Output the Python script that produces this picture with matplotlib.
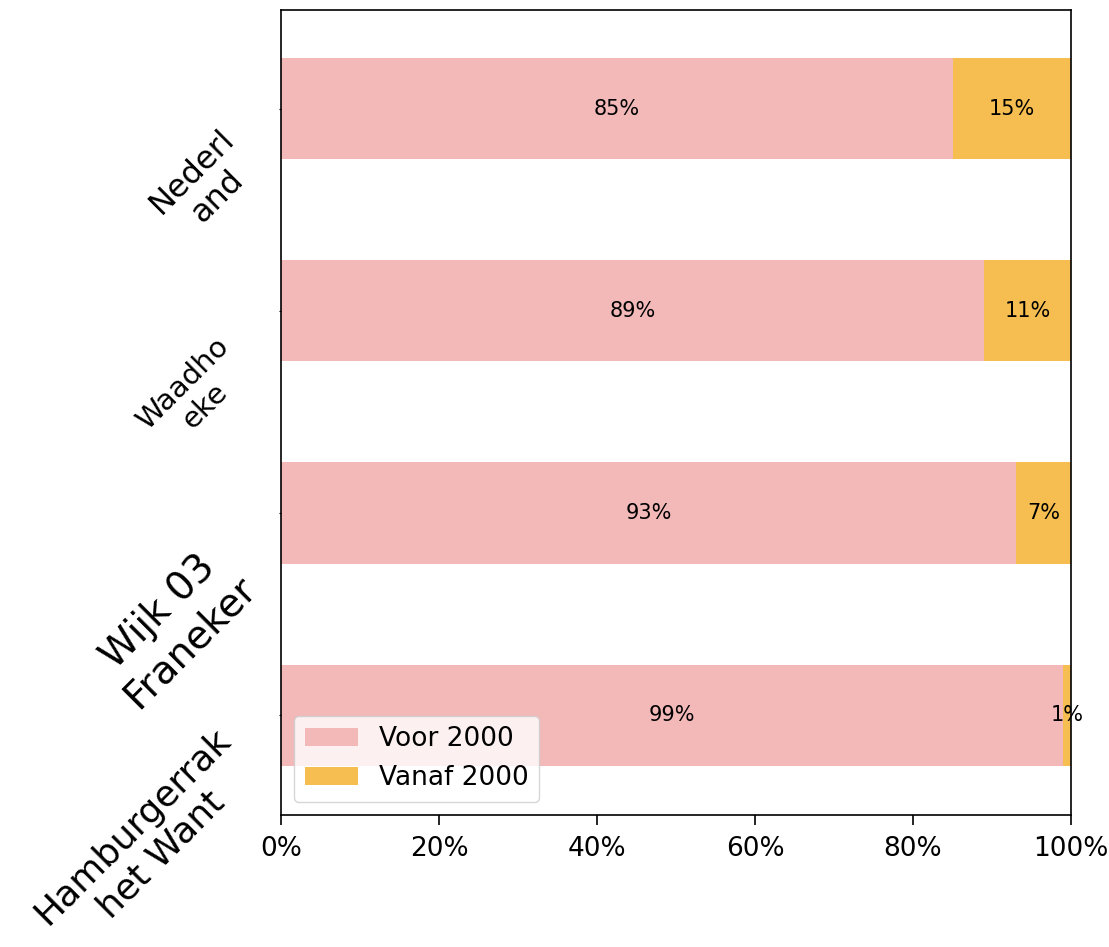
import matplotlib
matplotlib.use("Agg")
import matplotlib.pyplot as plt

categories = ["Nederl\nand", "Waadho\neke", "Wijk 03\nFraneker", "Hamburgerrak\nhet Want"]
voor_2000 = [85, 89, 93, 99]
vanaf_2000 = [15, 11, 7, 1]
series_names = ["Voor 2000", "Vanaf 2000"]
colors = ["#f3b9b9", "#f6be50"]
label_sizes = [23, 21, 28, 26]
xticks = [0, 20, 40, 60, 80, 100]
xtick_labels = ["0%", "20%", "40%", "60%", "80%", "100%"]

fig = plt.figure(figsize=(11.09, 9.47), dpi=100)
ax = fig.add_axes([281/1109, 1-815/947, (1071-281)/1109, (815-10)/947])

pos = list(range(len(categories)))
ax.barh(pos, voor_2000, height=0.5, color=colors[0], label=series_names[0])
ax.barh(pos, vanaf_2000, left=voor_2000, height=0.5, color=colors[1], label=series_names[1])

for i in pos:
    ax.text(voor_2000[i] / 2, i, f"{voor_2000[i]}%", ha="center", va="center", fontsize=15)
    ax.text(voor_2000[i] + vanaf_2000[i] / 2, i, f"{vanaf_2000[i]}%", ha="center", va="center", fontsize=15)

ax.set_xlim(0, 100)
ax.set_ylim(3.495, -0.49)
ax.set_xticks(xticks)
ax.set_xticklabels(xtick_labels, fontsize=19)
ax.set_yticks(pos)
ax.set_yticklabels([""] * len(pos))

# category labels, rotated, placed left of the axis (offsets in pixels)
offsets_px = [(-76, -75), (-87, -84), (-107, -114), (-134, -126)]
for i, (cat, fs, (dx, dy)) in enumerate(zip(categories, label_sizes, offsets_px)):
    ax.annotate(cat, xy=(0, i), xycoords=("axes fraction", "data"),
                xytext=(dx * 0.72, dy * 0.72), textcoords="offset points",
                ha="center", va="center", rotation=45, multialignment="center",
                fontsize=fs, annotation_clip=False)

ax.tick_params(axis="y", length=1.5, width=0.8)
ax.tick_params(axis="x", length=7, width=1.2, pad=8)
for s in ax.spines.values():
    s.set_linewidth(1.2)

ax.legend(loc="lower left", fontsize=19, bbox_to_anchor=(0.0, 0.0), borderaxespad=0.5)

fig.savefig("out.png", dpi=100)
